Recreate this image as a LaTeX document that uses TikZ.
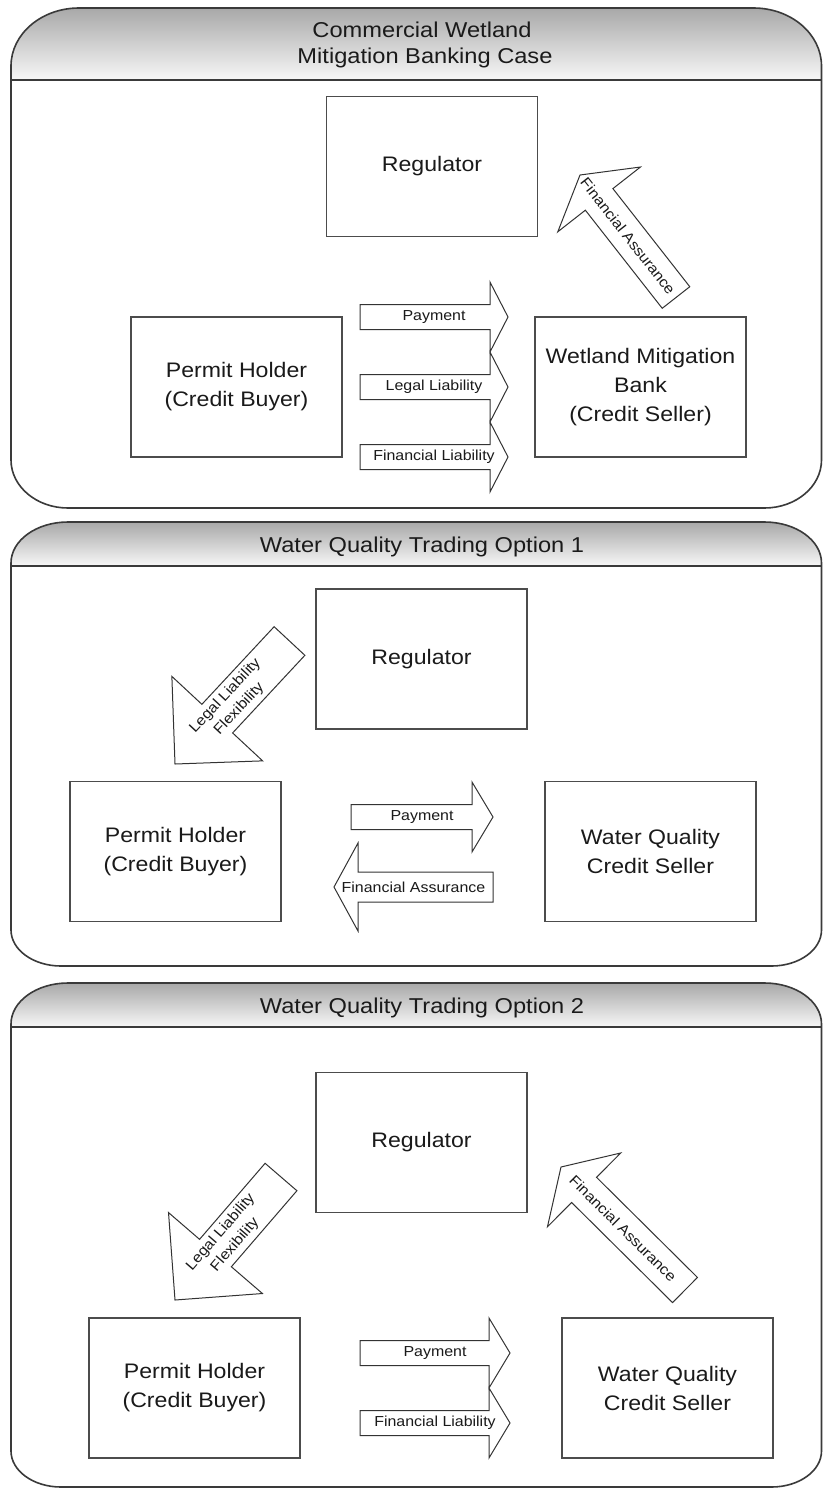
\documentclass[tikz,border=0pt]{standalone}
\usepackage{fontspec}
\setmainfont[FakeStretch=1.1]{Liberation Sans}
\usetikzlibrary{calc}
\definecolor{lineC}{HTML}{3A3A3A}
\definecolor{boxC}{HTML}{4C4C4C}
\definecolor{txtC}{HTML}{1A1A1A}
\tikzset{
  panelline/.style={draw=lineC, line width=1.6pt},
  headfill/.style={top color=black!34, bottom color=black!3},
  box/.style={draw=boxC, line width=1.7pt, minimum width=211pt, minimum height=140pt, inner sep=0pt, align=center, text=txtC, font=\fontsize{21}{29}\selectfont},
  arrowshape/.style={draw=black!80, line width=1pt, fill=white, line join=miter},
  arrowtext/.style={text=txtC, font=\fontsize{14.5}{19}\selectfont, inner sep=0pt, align=center},
  title/.style={text=txtC, font=\fontsize{21.5}{25}\selectfont, anchor=base, inner sep=0pt},
}
% #1 L, #2 R, #3 top, #4 header bottom, #5 bottom, #6 rx top, #7 ry top, #8 rx bottom, #9 ry bottom
\newcommand{\panelbox}[9]{%
  \path[headfill] (#1,#4) -- (#1,{#3+#7}) .. controls (#1,{#3+0.448*#7}) and ({#1+0.448*#6},#3) .. ({#1+#6},#3) -- ({#2-#6},#3) .. controls ({#2-0.448*#6},#3) and (#2,{#3+0.448*#7}) .. (#2,{#3+#7}) -- (#2,#4) -- cycle;
  \draw[panelline] (#1,{#3+#7}) .. controls (#1,{#3+0.448*#7}) and ({#1+0.448*#6},#3) .. ({#1+#6},#3) -- ({#2-#6},#3) .. controls ({#2-0.448*#6},#3) and (#2,{#3+0.448*#7}) .. (#2,{#3+#7}) -- (#2,{#5-#9}) .. controls (#2,{#5-0.448*#9}) and ({#2-0.448*#8},#5) .. ({#2-#8},#5) -- ({#1+#8},#5) .. controls ({#1+0.448*#8},#5) and (#1,{#5-0.448*#9}) .. (#1,{#5-#9}) -- cycle;
  \draw[panelline] (#1,#4) -- (#2,#4);
}
% block arrow: #1 name, #2 tail, #3 tip, #4 shaft half width, #5 head half width, #6 head length, #7 text
\newcommand{\barrow}[7]{%
  \coordinate (#1-t) at (#2);
  \coordinate (#1-p) at (#3);
  \coordinate (#1-b) at ($(#1-p)!#6!(#1-t)$);
  \draw[arrowshape] ($(#1-t)!#4!90:(#1-p)$) -- ($(#1-b)!#4!90:(#1-p)$) -- ($(#1-b)!#5!90:(#1-p)$) -- (#1-p) -- ($(#1-b)!#5!-90:(#1-p)$) -- ($(#1-b)!#4!-90:(#1-p)$) -- ($(#1-t)!#4!-90:(#1-p)$) -- cycle;
  \path (#1-t) -- node[arrowtext, sloped] (#1) {#7} (#1-p);
}
\begin{document}
\begin{tikzpicture}[x=1pt, y=-1pt]
\useasboundingbox (0,0) rectangle (823,1492);
\fill[white] (0,0) rectangle (823,1492);

% ---------- Panel 1 ----------
\panelbox{11}{821.5}{8}{80}{508}{68}{58}{57}{48}
\node[title] (t1a) at (422,37) {Commercial Wetland};
\node[title] (t1b) at (425,63) {Mitigation Banking Case};
\node[box] (reg1) at (432,166.5) {Regulator};
\node[box] (ph1) at (236.5,387) {Permit Holder\\(Credit Buyer)};
\node[box] (wmb) at (640.5,387) {Wetland Mitigation\\Bank\\(Credit Seller)};
\barrow{pay1}{360,317}{508,317}{12.5pt}{35pt}{18pt}{Payment}
\barrow{leg1}{360,387}{508,387}{12.5pt}{35pt}{18pt}{Legal Liability}
\barrow{fin1}{360,457}{508,457}{12.5pt}{35pt}{18pt}{Financial Liability}
\barrow{fa1}{676,297.5}{580,175}{17.5pt}{52.5pt}{31pt}{Financial Assurance}

% ---------- Panel 2 ----------
\panelbox{11}{821.5}{522}{566}{966}{57}{41}{50}{36}
\node[title] (t2) at (422,552) {Water Quality Trading Option 1};
\node[box] (reg2) at (421.5,659) {Regulator};
\node[box] (ph2) at (175.5,851.5) {Permit Holder\\(Credit Buyer)};
\node[box] (wq2) at (650.5,851.5) {Water Quality\\Credit Seller};
\barrow{llf2}{289.5,641}{175,764}{21pt}{62pt}{62pt}{Legal Liability\\Flexibility}
\barrow{pay2}{351,817}{493,817}{12.5pt}{35pt}{21pt}{Payment}
\barrow{fa2}{493,887}{334,887}{15pt}{44pt}{24pt}{Financial Assurance}

% ---------- Panel 3 ----------
\panelbox{11}{821.5}{983}{1027}{1487}{57}{41}{50}{36}
\node[title] (t3) at (422,1013) {Water Quality Trading Option 2};
\node[box] (reg3) at (421.5,1142.5) {Regulator};
\node[box] (ph3) at (194.5,1388) {Permit Holder\\(Credit Buyer)};
\node[box] (wq3) at (667.5,1388) {Water Quality\\Credit Seller};
\barrow{llf3}{281,1177}{175,1300}{21pt}{62pt}{62pt}{Legal Liability\\Flexibility}
\barrow{fa3}{685,1290}{561,1167}{17.7pt}{52pt}{32.5pt}{Financial Assurance}
\barrow{pay3}{360,1353}{510,1353}{12.5pt}{35pt}{21pt}{Payment}
\barrow{fin3}{360,1423}{510,1423}{12.5pt}{35pt}{21pt}{Financial Liability}
\end{tikzpicture}
\end{document}
